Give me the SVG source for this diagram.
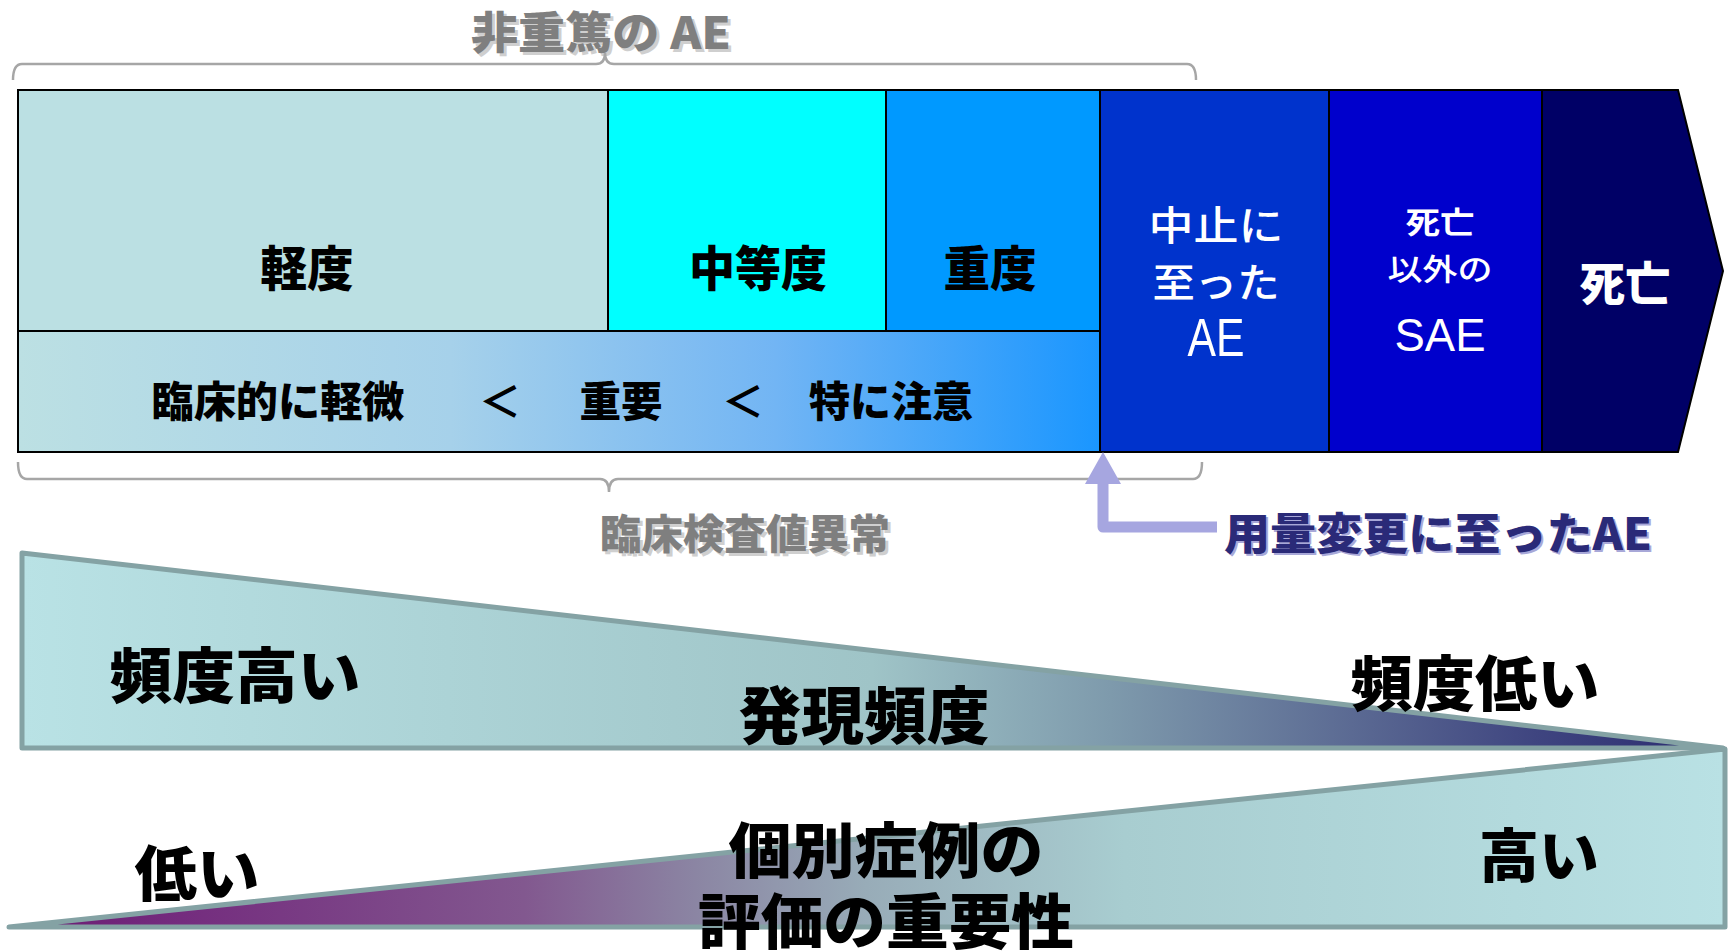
<svg xmlns="http://www.w3.org/2000/svg" width="1733" height="951" viewBox="0 0 1733 951">
<defs>
<style>
.jp{font-family:'Noto Sans CJK JP','Noto Sans',sans-serif;}
.b{font-weight:900;}
.k{fill:#000;}
.w{fill:#fff;}
.g{fill:#7f7f7f;}
.gs{fill:#cfcfcf;}
.edge{stroke:#000;stroke-width:2;}
.brace{fill:none;stroke:#a6a6a6;stroke-width:2.5;}
.tri{stroke:#84a2a4;stroke-width:5;stroke-linejoin:round;}
</style>
<linearGradient id="rowGrad" x1="18" y1="0" x2="1100" y2="0" gradientUnits="userSpaceOnUse">
<stop offset="0" stop-color="#bce0e3"/>
<stop offset="0.4" stop-color="#a6d1ea"/>
<stop offset="0.7" stop-color="#72b5f4"/>
<stop offset="1" stop-color="#1a96ff"/>
</linearGradient>
<linearGradient id="freqGrad" x1="22" y1="0" x2="1723" y2="0" gradientUnits="userSpaceOnUse">
<stop offset="0" stop-color="#b9e2e5"/>
<stop offset="0.5" stop-color="#9fc4c7"/>
<stop offset="0.64" stop-color="#7e9aac"/>
<stop offset="0.77" stop-color="#5e6e95"/>
<stop offset="0.89" stop-color="#3f4580"/>
<stop offset="1" stop-color="#2a2a6e"/>
</linearGradient>
<linearGradient id="impGrad" x1="9" y1="0" x2="1725" y2="0" gradientUnits="userSpaceOnUse">
<stop offset="0" stop-color="#6a1a72"/>
<stop offset="0.1" stop-color="#742c7e"/>
<stop offset="0.3" stop-color="#82588f"/>
<stop offset="0.4" stop-color="#8b85a3"/>
<stop offset="0.5" stop-color="#98acb8"/>
<stop offset="0.65" stop-color="#a8cdd0"/>
<stop offset="1" stop-color="#b9e1e4"/>
</linearGradient>
</defs>
<rect width="1733" height="951" fill="#fff"/>

<g id="label-nonserious">
<text class="jp b gs" x="604" y="52" font-size="44" text-anchor="middle" textLength="260" lengthAdjust="spacingAndGlyphs">非重篤の AE</text>
<text class="jp b g" x="601" y="49" font-size="44" text-anchor="middle" textLength="260" lengthAdjust="spacingAndGlyphs">非重篤の AE</text>
</g>

<g id="node-mild">
<rect x="18" y="90" width="590" height="241" fill="#bbe0e3" class="edge"/>
<text class="jp b k" x="307" y="286" font-size="48" text-anchor="middle" textLength="93" lengthAdjust="spacingAndGlyphs">軽度</text>
</g>
<g id="node-moderate">
<rect x="608" y="90" width="278" height="241" fill="#00ffff" class="edge"/>
<text class="jp b k" x="758" y="286" font-size="48" text-anchor="middle" textLength="138" lengthAdjust="spacingAndGlyphs">中等度</text>
</g>
<g id="node-severe">
<rect x="886" y="90" width="214" height="241" fill="#0099ff" class="edge"/>
<text class="jp b k" x="990" y="286" font-size="48" text-anchor="middle" textLength="93" lengthAdjust="spacingAndGlyphs">重度</text>
</g>
<g id="node-clinical">
<rect x="18" y="331" width="1082" height="121" fill="url(#rowGrad)" class="edge"/>
<text class="jp b k" x="278" y="417" font-size="42" text-anchor="middle" textLength="253" lengthAdjust="spacingAndGlyphs">臨床的に軽微</text>
<text class="jp k" x="500" y="417" font-size="42" font-weight="700" text-anchor="middle">＜</text>
<text class="jp b k" x="621" y="417" font-size="42" text-anchor="middle" textLength="83" lengthAdjust="spacingAndGlyphs">重要</text>
<text class="jp k" x="743" y="417" font-size="42" font-weight="700" text-anchor="middle">＜</text>
<text class="jp b k" x="891" y="417" font-size="42" text-anchor="middle" textLength="164" lengthAdjust="spacingAndGlyphs">特に注意</text>
</g>
<g id="node-discontinued">
<rect x="1100" y="90" width="229" height="362" fill="#0033cc" class="edge"/>
<text class="jp w" x="1216" y="240" font-size="40" font-weight="500" text-anchor="middle" textLength="135" lengthAdjust="spacingAndGlyphs">中止に</text>
<text class="jp w" x="1216" y="297" font-size="40" font-weight="500" text-anchor="middle" textLength="127" lengthAdjust="spacingAndGlyphs">至った</text>
<text class="w" x="1216" y="356" font-size="54" style="font-family:'Liberation Sans',sans-serif" text-anchor="middle" textLength="57" lengthAdjust="spacingAndGlyphs">AE</text>
</g>
<g id="node-sae">
<rect x="1329" y="90" width="213" height="362" fill="#0000cc" class="edge"/>
<text class="jp w" x="1440" y="233" font-size="30" font-weight="700" text-anchor="middle" textLength="69" lengthAdjust="spacingAndGlyphs">死亡</text>
<text class="jp w" x="1440" y="280" font-size="30" font-weight="500" text-anchor="middle" textLength="105" lengthAdjust="spacingAndGlyphs">以外の</text>
<text class="w" x="1440" y="351" font-size="47" style="font-family:'Liberation Sans',sans-serif" text-anchor="middle" textLength="91" lengthAdjust="spacingAndGlyphs">SAE</text>
</g>
<g id="node-death">
<polygon points="1542,90 1678,90 1723,271 1678,452 1542,452" fill="#000066" class="edge"/>
<text class="jp b w" x="1625" y="300" font-size="46" text-anchor="middle" textLength="91" lengthAdjust="spacingAndGlyphs">死亡</text>
</g>

<g id="label-lababnormal">
<text class="jp b gs" x="748" y="552" font-size="41" text-anchor="middle" textLength="290" lengthAdjust="spacingAndGlyphs">臨床検査値異常</text>
<text class="jp b g" x="745" y="549" font-size="41" text-anchor="middle" textLength="290" lengthAdjust="spacingAndGlyphs">臨床検査値異常</text>
</g>

<g id="label-dosechange">
<text class="jp b" fill="#a8a8d8" x="1440" y="552" font-size="44" text-anchor="middle" textLength="428" lengthAdjust="spacingAndGlyphs">用量変更に至ったAE</text>
<text class="jp b" fill="#2a2a78" x="1438" y="550" font-size="44" text-anchor="middle" textLength="428" lengthAdjust="spacingAndGlyphs">用量変更に至ったAE</text>
</g>

<g id="connectors">
<path class="brace" d="M13,80 Q13,64 22,64 L596,64 Q605,64 605,53 Q605,64 614,64 L1187,64 Q1196,64 1196,80"/>
<path class="brace" d="M18,462 Q18,479 27,479 L600,479 Q609,479 609,492 Q609,479 618,479 L1193,479 Q1202,479 1202,462"/>
<path d="M1217,527 L1103,527 L1103,480" fill="none" stroke="#a6a6e0" stroke-width="11" stroke-linejoin="round"/>
<polygon points="1103,452 1121,484 1085,484" fill="#a6a6e0"/>
</g>

<g id="node-frequency">
<polygon class="tri" points="22,553 1723,748 22,748" fill="url(#freqGrad)"/>
<text class="jp b k" x="235" y="698" font-size="60" text-anchor="middle" textLength="251" lengthAdjust="spacingAndGlyphs">頻度高い</text>
<text class="jp b k" x="864" y="739" font-size="62" text-anchor="middle" textLength="251" lengthAdjust="spacingAndGlyphs">発現頻度</text>
<text class="jp b k" x="1475" y="706" font-size="60" text-anchor="middle" textLength="249" lengthAdjust="spacingAndGlyphs">頻度低い</text>
</g>

<g id="node-importance">
<polygon class="tri" points="9,927 1725,749 1725,927" fill="url(#impGrad)"/>
<text class="jp b k" x="197" y="896" font-size="60" text-anchor="middle" textLength="125" lengthAdjust="spacingAndGlyphs">低い</text>
<text class="jp b k" x="886" y="873" font-size="60" text-anchor="middle" textLength="315" lengthAdjust="spacingAndGlyphs">個別症例の</text>
<text class="jp b k" x="886" y="944" font-size="60" text-anchor="middle" textLength="376" lengthAdjust="spacingAndGlyphs">評価の重要性</text>
<text class="jp b k" x="1539" y="877" font-size="58" text-anchor="middle" textLength="120" lengthAdjust="spacingAndGlyphs">高い</text>
</g>
</svg>
